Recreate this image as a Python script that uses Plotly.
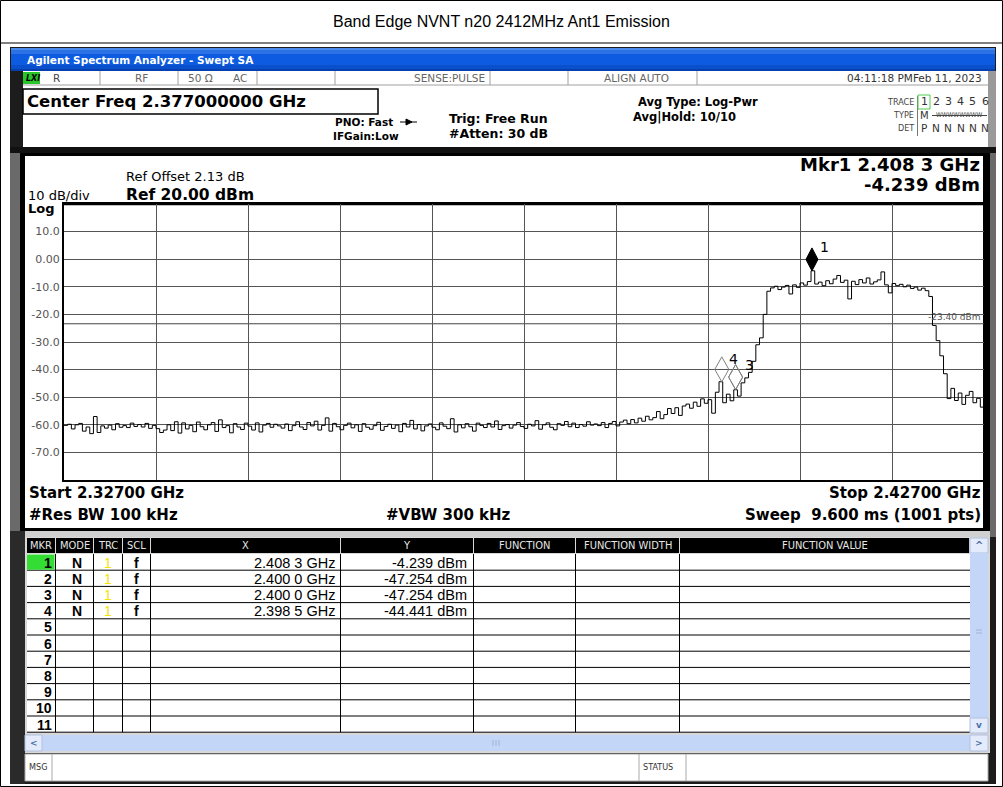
import plotly.graph_objects as go

W, H = 1003, 787

# ---------------- data ----------------
START_GHZ = 2.327
STOP_GHZ = 2.427
CENTER_GHZ = 2.377

noise_floor_dbm = [
    -60.2, -59.8, -61.5, -60.0, -59.5, -62.3, -60.8, -63.2, -57.0, -62.8, -60.4, -61.2, -60.1, -61.8, -59.6, -60.9, -60.3, -61.0, -59.4, -60.6, -59.9, -60.8, -59.5, -61.3, -60.2,
    -61.4, -62.8, -61.9, -60.0, -62.1, -58.9, -63.0, -59.3, -61.5, -60.2, -62.5, -59.0, -60.7, -61.8, -60.0, -59.2, -62.4, -58.2, -61.0, -60.3, -62.9, -59.6, -60.8, -61.7, -59.4,
    -60.5, -61.9, -59.3, -62.6, -60.1, -59.5, -60.9, -59.8, -60.4, -61.2, -59.7, -62.1, -60.3, -58.9, -60.8, -61.7, -59.2, -60.4, -58.7, -61.9, -60.2, -57.5, -62.3, -59.5, -60.7,
    -61.8, -60.2, -59.4, -61.1, -60.0, -62.4, -59.6, -60.9, -61.6, -60.3, -59.1, -62.0, -60.6, -59.8, -61.3, -60.1, -62.5, -59.5, -60.8, -58.4, -61.5, -59.9, -62.2, -60.4, -59.7,
    -60.9, -61.8, -59.3, -60.5, -61.4, -57.8, -62.6, -60.0, -61.1, -59.6, -60.7, -62.3, -59.4, -60.2, -61.0, -59.5, -60.8, -58.6, -61.7, -60.3, -59.9, -61.2, -60.1, -59.2, -60.6,
    -61.3, -59.8, -60.4, -58.5, -61.6, -60.0, -59.3, -60.9, -61.8, -59.6, -60.2, -58.8, -60.7, -59.4, -61.0, -59.9, -60.5, -58.9, -60.1, -59.7,
]
lower_skirt_dbm = [
    -60.3, -59.2, -61.0, -59.5, -58.8, -60.4, -59.0, -58.3, -59.6, -58.1, -59.3, -57.6, -58.7, -56.9, -58.2,
    -57.4, -55.2, -57.8, -56.3, -54.1, -55.9, -53.8, -56.6, -53.2, -52.5, -54.0, -51.8, -53.3, -50.6, -52.2,
    -50.9, -55.8, -48.2, -44.4, -52.0, -48.9, -51.3, -47.3, -49.6, -44.8, -43.0, -41.0, -37.0, -31.0, -28.5, -20.0,
]
in_band_dbm = [
    -11.6, -10.4, -9.8, -11.0, -10.1, -9.5, -12.6, -9.3, -10.2, -8.6,
    -9.4, -8.1, -4.2, -9.0, -8.3, -9.6, -7.8, -8.9, -7.2, -5.9,
    -8.4, -7.6, -14.4, -8.0, -9.2, -7.4, -8.6, -6.8, -9.0, -8.2,
    -7.5, -4.6, -9.3, -12.2, -8.8, -9.6, -9.1, -10.0, -9.4, -10.6,
    -10.1, -11.2, -10.5, -11.4,
]
upper_skirt_dbm = [
    -13.5, -24.0, -29.5, -35.0, -41.5, -50.5,
    -46.8, -51.2, -48.5, -52.6, -49.3, -47.9, -52.0, -50.4, -53.6, -49.1,
]
trace_dbm = noise_floor_dbm + lower_skirt_dbm + in_band_dbm + upper_skirt_dbm
n_pts = len(trace_dbm)
freq_ghz = [START_GHZ + (STOP_GHZ - START_GHZ) * i / (n_pts - 1) for i in range(n_pts)]

marker_ids = ["1", "2", "3", "4"]
marker_freq_ghz = [2.4083, 2.4000, 2.4000, 2.3985]
marker_dbm = [-4.239, -47.254, -47.254, -44.441]
marker_x_text = ["2.408 3 GHz", "2.400 0 GHz", "2.400 0 GHz", "2.398 5 GHz"]
marker_y_text = ["-4.239 dBm", "-47.254 dBm", "-47.254 dBm", "-44.441 dBm"]
marker_mode = ["N", "N", "N", "N"]
marker_trc = ["1", "1", "1", "1"]
marker_scl = ["f", "f", "f", "f"]
display_line_dbm = -23.40

y_tick_vals = [10, 0, -10, -20, -30, -40, -50, -60, -70]
y_tick_text = ["10.0", "0.00", "-10.0", "-20.0", "-30.0", "-40.0", "-50.0", "-60.0", "-70.0"]

table_headers = ["MKR", "MODE", "TRC", "SCL", "X", "Y", "FUNCTION", "FUNCTION WIDTH", "FUNCTION VALUE"]

# ---------------- helpers ----------------
DJ = "DejaVu Sans"
DJC = "DejaVu Sans Condensed, Liberation Sans Narrow, DejaVu Sans"
AR = "Liberation Sans, Arial"

shapes = []
annots = []


def px(x):
    return x / W


def py(y):
    return 1 - y / H


def rect(x0, y0, x1, y1, fill=None, line=None, lw=0, layer="below"):
    shapes.append(dict(type="rect", xref="paper", yref="paper",
                       x0=px(x0), x1=px(x1), y0=py(y1), y1=py(y0),
                       fillcolor=fill if fill else "rgba(0,0,0,0)",
                       line=dict(color=line if line else "rgba(0,0,0,0)", width=lw),
                       layer=layer))


def seg(x0, y0, x1, y1, color="black", lw=1, layer="below"):
    shapes.append(dict(type="line", xref="paper", yref="paper",
                       x0=px(x0), x1=px(x1), y0=py(y0), y1=py(y1),
                       line=dict(color=color, width=lw), layer=layer))


def text(x, y, s, size, color="black", family=DJ, anchor="left"):
    annots.append(dict(x=px(x), y=py(y), xref="paper", yref="paper", text=s,
                       showarrow=False, xanchor=anchor, yanchor="middle",
                       borderpad=0, font=dict(size=size, color=color, family=family)))


# ---------------- page ----------------
rect(0.5, 0.5, 1002.5, 786.5, fill="white", line="black", lw=1)
seg(0, 43, 1003, 43, "black", 1)
text(501, 21, "Band Edge NVNT n20 2412MHz Ant1 Emission", 16, "black", AR, "center")

# analyzer frame
rect(10, 47, 996, 784, fill="#1c1c1c")
# blue title bar
for (a, b, c) in [(48, 50, "#4a8ae8"), (50, 54, "#2c72e6"), (54, 65, "#0d5be0"),
                  (65, 69, "#0a4fcc"), (69, 71, "#073fae")]:
    rect(11, a, 995, b, fill=c)
text(26, 60, "<b>Agilent Spectrum Analyzer - Swept SA</b>", 10.5, "white", DJ)

# header white area
rect(23, 71, 988, 147, fill="white")
rect(988, 71, 996, 147, fill="#9a9a9a")
# status row
seg(23, 85, 988, 85, "#a0a0a0", 1)
for xs in [100, 178, 257, 335, 490, 568, 697]:
    seg(xs, 71, xs, 85, "#a0a0a0", 1)
rect(23, 72, 40, 84, fill="#29c629")
text(25, 78, "<b><i>LXI</i></b>", 8, "black", DJ)
text(52, 78, "R", 10.5, "#444", DJ)
text(134, 78, "RF", 10.5, "#666", DJ)
text(187, 78, "50 \u03a9", 10.5, "#666", DJ)
text(232, 78, "AC", 10.5, "#666", DJ)
text(413, 78, "SENSE:PULSE", 10.5, "#666", DJ)
text(603, 78, "ALIGN AUTO", 10.5, "#666", DJ)
text(983, 78, "04:11:18 PMFeb 11, 2023", 10.5, "#333", DJ, "right")

# center freq box
rect(23, 89, 378, 114, fill="white", line="black", lw=1.5)
text(26, 101.5, "<b>Center Freq 2.377000000 GHz</b>", 16.5, "black", DJ)
text(364, 122, "<b>PNO: Fast</b>", 10.5, "black", DJ, "center")
text(366, 136, "<b>IFGain:Low</b>", 10.5, "black", DJ, "center")
seg(400, 122, 417, 122, "black", 1)
shapes.append(dict(type="path", xref="paper", yref="paper",
                   path="M %f %f L %f %f L %f %f Z" % (px(406), py(119), px(412), py(122), px(406), py(125)),
                   fillcolor="black", line=dict(color="black", width=1), layer="below"))
text(448, 118, "<b>Trig: Free Run</b>", 12.5, "black", DJ)
text(448, 134, "<b>#Atten: 30 dB</b>", 12.5, "black", DJ)
text(637, 102, "<b>Avg Type: Log-Pwr</b>", 11.5, "black", DJ)
text(632, 117, "<b>Avg|Hold: 10/10</b>", 11.5, "black", DJ)

# trace info block
text(915, 102, "TRACE", 9, "#444", DJC, "right")
text(915, 115, "TYPE", 9, "#444", DJC, "right")
text(915, 128, "DET", 9, "#444", DJC, "right")
seg(917.5, 96, 917.5, 136, "#777", 1)
rect(918, 95, 930, 109, line="#4ccc4c", lw=1)
for k, ch in enumerate(["1", "2", "3", "4", "5", "6"]):
    text(924 + 12.2 * k, 102, ch, 11, "#333", DJ, "center")
text(924, 115, "M", 10, "#333", DJ, "center")
text(959, 115, "WWWWWWWW", 6.5, "#444", DJC, "center")
seg(932, 115.5, 987, 115.5, "#444", 1)
for k, ch in enumerate(["P", "N", "N", "N", "N", "N"]):
    text(924 + 12.2 * k, 128, ch, 10.5, "#333", DJ, "center")

# separator band
rect(10, 147, 996, 153, fill="#111")
# graph panel
rect(10, 153, 996, 537, fill="#6a6a6a")
rect(20, 153, 990, 531, fill="black")
rect(25, 156, 983, 528, fill="white")
text(125, 176, "Ref Offset 2.13 dB", 13, "black", DJ)
text(125, 195, "<b>Ref 20.00 dBm</b>", 15.5, "black", DJ)
text(27, 195, "10 dB/div", 13, "black", DJ)
text(27, 208, "<b>Log</b>", 13, "black", DJ)
text(981, 165, "<b>Mkr1 2.408 3 GHz</b>", 18, "black", DJ, "right")
text(981, 184, "<b>-4.239 dBm</b>", 18, "black", DJ, "right")
seg(64, 204, 984, 204, "black", 2.5)
text(28, 493, "<b>Start 2.32700 GHz</b>", 15, "black", DJ)
text(28, 515, "<b>#Res BW 100 kHz</b>", 15, "black", DJ)
text(385, 515, "<b>#VBW 300 kHz</b>", 15, "black", DJ)
text(982, 493, "<b>Stop 2.42700 GHz</b>", 15, "black", DJ, "right")
text(982, 515, "<b>Sweep\u00a0\u00a09.600 ms (1001 pts)</b>", 15, "black", DJ, "right")

# ---------------- marker table ----------------
rect(23, 531, 990, 537, fill="#d0d0d0")
rect(10, 531, 25, 784, fill="#2a2a2a")
rect(25, 537, 990, 753, fill="#d8d8d8")
col_edges = [27, 56, 94, 123, 151, 341, 474, 576, 680, 970]
for i, name in enumerate(table_headers):
    x0, x1 = col_edges[i], col_edges[i + 1] - 1
    rect(x0, 538, x1, 553, fill="black")
    text((x0 + x1) / 2, 545.5, name, 11, "#e6e6e6", DJC, "center")
ROW_H = 16.2
ROW0 = 554
rect(27, ROW0, 970, ROW0 + 11 * ROW_H, fill="white")
for r in range(11):
    yb = ROW0 + (r + 1) * ROW_H
    seg(27, yb, 970, yb, "black", 1)
for xs in col_edges[1:-1]:
    seg(xs - 0.5, ROW0, xs - 0.5, ROW0 + 11 * ROW_H, "black", 1)
rect(27, ROW0 + 0.5, 54.5, ROW0 + ROW_H - 0.5, fill="#33dd33")
for r in range(11):
    yc = ROW0 + (r + 0.5) * ROW_H + 0.5
    text(53, yc, "<b>%d</b>" % (r + 1), 14, "black", AR, "right")
for r in range(len(marker_ids)):
    yc = ROW0 + (r + 0.5) * ROW_H + 0.5
    text(77, yc, "<b>" + marker_mode[r] + "</b>", 14, "black", AR, "center")
    text(108, yc, marker_trc[r], 14, "#f2e600", AR, "center")
    text(136, yc, "<b>" + marker_scl[r] + "</b>", 14, "black", AR, "center")
    text(336, yc, marker_x_text[r], 14.5, "black", AR, "right")
    text(468, yc, marker_y_text[r], 14.5, "black", AR, "right")

# vertical scrollbar
rect(970, 538, 988, 553, fill="#e4ecfb", line="#b0c0e0", lw=1)
text(979, 545, "<b>^</b>", 10, "#4d6fa8", DJ, "center")
rect(970, 553, 988, 718, fill="#c4d6f7")
seg(976, 630, 982, 630, "#9fb4dc", 1)
seg(976, 633, 982, 633, "#9fb4dc", 1)
rect(970, 718, 988, 733, fill="#e4ecfb", line="#b0c0e0", lw=1)
text(979, 725, "<b>v</b>", 9, "#4d6fa8", DJ, "center")
# horizontal scrollbar
rect(25, 735, 988, 751, fill="#c4d6f7")
rect(25, 735, 42, 751, fill="#e4ecfb", line="#b0c0e0", lw=1)
text(33.5, 743, "<b>&lt;</b>", 9, "#4d6fa8", DJ, "center")
rect(970, 735, 988, 751, fill="#e4ecfb", line="#b0c0e0", lw=1)
text(979, 743, "<b>&gt;</b>", 9, "#4d6fa8", DJ, "center")
for xs in [493, 496, 499]:
    seg(xs, 740, xs, 746, "#9fb4dc", 1)
# message bar
rect(25, 754, 988, 781, fill="white", line="#aaaaaa", lw=1)
seg(52, 754, 52, 781, "#aaaaaa", 1)
seg(639, 754, 639, 781, "#aaaaaa", 1)
seg(686, 754, 686, 781, "#aaaaaa", 1)
text(28, 767, "MSG", 9, "#333", DJC)
text(642, 767, "STATUS", 9, "#333", DJC)

# ---------------- spectrum plot ----------------
fig = go.Figure()
fig.add_trace(go.Scatter(x=freq_ghz, y=trace_dbm, mode="lines",
                         line=dict(color="black", width=1, shape="hv"),
                         hoverinfo="skip", showlegend=False))

# display line
shapes.append(dict(type="line", xref="x", yref="y", x0=START_GHZ, x1=STOP_GHZ,
                   y0=display_line_dbm, y1=display_line_dbm,
                   line=dict(color="#444", width=1), layer="below"))
annots.append(dict(x=STOP_GHZ, y=display_line_dbm, xref="x", yref="y",
                   text="%.2f dBm" % display_line_dbm, showarrow=False,
                   xanchor="right", yanchor="bottom", xshift=-1, yshift=0,
                   font=dict(size=9, color="#555", family=DJ)))


def diamond(f, v, w, h, fill, color):
    shapes.append(dict(type="path", xref="x", yref="y", xsizemode="pixel", ysizemode="pixel",
                       xanchor=f, yanchor=v,
                       path="M 0 0 L %g %g L 0 %g L %g %g Z" % (w / 2, h / 2, h, -w / 2, h / 2),
                       fillcolor=fill, line=dict(color=color, width=1), layer="above"))


label_shift = {"1": (13, 24), "3": (14, 25), "4": (12, 23)}
for i, mid in enumerate(marker_ids):
    if mid == "1":
        diamond(marker_freq_ghz[i], marker_dbm[i], 12, 23, "black", "black")
    else:
        diamond(marker_freq_ghz[i], marker_dbm[i], 14, 25, "rgba(0,0,0,0)", "#808080")
    if mid in label_shift:
        dx, dy = label_shift[mid]
        annots.append(dict(x=marker_freq_ghz[i], y=marker_dbm[i], xref="x", yref="y",
                           text=mid, showarrow=False, xanchor="center", yanchor="middle",
                           xshift=dx, yshift=dy,
                           font=dict(size=14, color="black", family=DJ)))

fig.update_layout(
    width=W, height=H, autosize=False,
    margin=dict(l=0, r=0, t=0, b=0),
    paper_bgcolor="white", plot_bgcolor="white", showlegend=False,
    xaxis=dict(domain=[64 / W, 984 / W], range=[START_GHZ, STOP_GHZ],
               tick0=START_GHZ, dtick=(STOP_GHZ - START_GHZ) / 10,
               showgrid=True, gridcolor="#555", gridwidth=1,
               showticklabels=False, ticks="", zeroline=False,
               showline=True, mirror=True, linecolor="black", linewidth=2,
               fixedrange=True),
    yaxis=dict(domain=[1 - 480 / H, 1 - 204 / H], range=[-80, 20],
               tickvals=y_tick_vals, ticktext=y_tick_text,
               showgrid=True, gridcolor="#555", gridwidth=1,
               ticks="", zeroline=False,
               showline=True, mirror=True, linecolor="black", linewidth=2,
               tickfont=dict(family=DJ, size=11, color="#555"),
               fixedrange=True),
    shapes=shapes, annotations=annots,
)

fig.write_html("out.html", config={"displayModeBar": False},
               post_script="document.body.style.margin='0';document.body.style.overflow='hidden';")
